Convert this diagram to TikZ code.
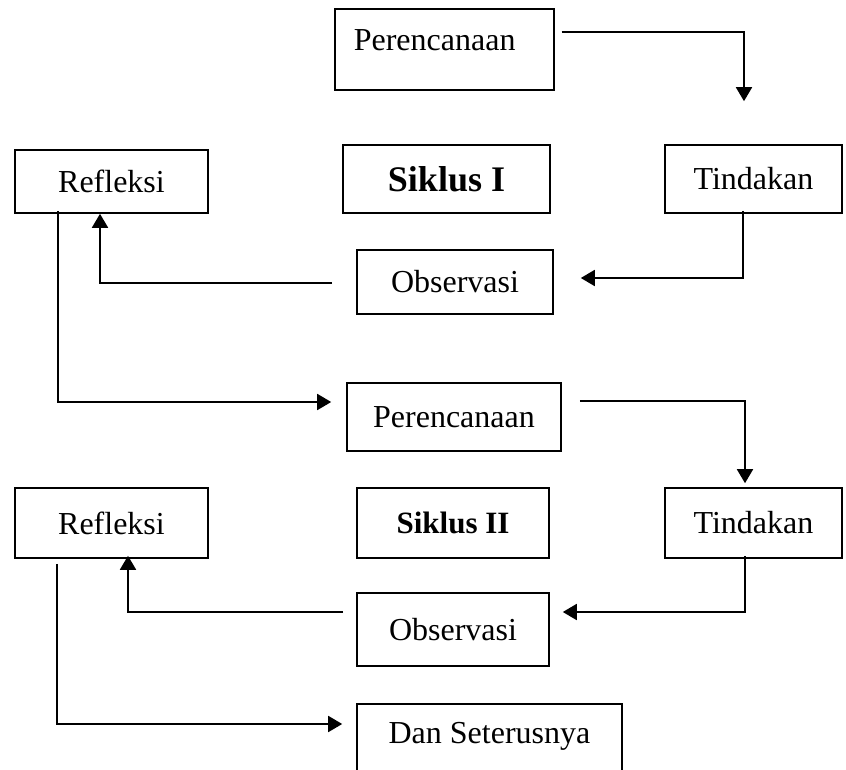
\documentclass[tikz,border=0pt]{standalone}
\usepackage{fontspec}
\setmainfont{Liberation Serif}
\usepackage{tikz}
\usetikzlibrary{arrows.meta, calc}

\begin{document}
\begin{tikzpicture}[
          x=1pt, y=-1pt,
          box/.style={rectangle, draw, line width=1.6pt, inner sep=0pt,
            font=\fontsize{32}{38}\selectfont},
          link/.style={line width=1.8pt, -{Triangle[length=14pt, width=16pt]}}
        ]
          \useasboundingbox (0,0) rectangle (846,770);
          \clip (0,0) rectangle (846,770);
          % siklus I
          \node[box, anchor=north west, text width=181pt, align=left, inner xsep=19pt,
            text height=42pt, text depth=39pt] (p1) at (334,8) {Perencanaan};
          \node[box, minimum width=193pt, minimum height=63pt] (r1) at (111.5,181.5) {Refleksi};
          \node[box, minimum width=207pt, minimum height=68pt,
            font=\fontsize{36}{42}\selectfont\bfseries] (s1) at (446.5,179) {Siklus I};
          \node[box, minimum width=177pt, minimum height=68pt] (t1) at (753.5,179) {Tindakan};
          \node[box, minimum width=196pt, minimum height=64pt] (o1) at (455,282) {Observasi};
          % siklus II
          \node[box, minimum width=214pt, minimum height=68pt] (p2) at (454,417) {Perencanaan};
          \node[box, minimum width=193pt, minimum height=70pt] (r2) at (111.5,523) {Refleksi};
          \node[box, minimum width=192pt, minimum height=70pt,
            font=\fontsize{31}{37}\selectfont\bfseries] (s2) at (453,523) {Siklus II};
          \node[box, minimum width=177pt, minimum height=70pt] (t2) at (753.5,523) {Tindakan};
          \node[box, minimum width=192pt, minimum height=73pt] (o2) at (453,629.5) {Observasi};
          \node[box, anchor=north, minimum width=265pt, text height=40pt, text depth=50pt]
            (d) at (489.5,703) {Dan Seterusnya};
          % panah
          \draw[link] ($(p1.north east)+(7,24)$) -| ($(t1.north)+(-9.5,-43)$);
          \draw[link] ($(t1.south)+(-10.5,-3)$) |- ($(o1.east)+(27,-4)$);
          \draw[link] ($(o1.west)+(-24,1)$) -| ($(r1.south)+(-11.5,0)$);
          \draw[link] ($(r1.south)+(-53.5,-3)$) |- ($(p2.west)+(-15,-15)$);
          \draw[link] ($(p2.east)+(18,-16)$) -| ($(t2.north)+(-8.5,-4)$);
          \draw[link] ($(t2.south)+(-8.5,-3)$) |- ($(o2.east)+(13,-17.5)$);
          \draw[link] ($(o2.west)+(-13,-17.5)$) -| ($(r2.south)+(16.5,-3)$);
          \draw[link] ($(r2.south)+(-54.5,5)$) |- ($(d.north west)+(-14,21)$);
        \end{tikzpicture}
\end{document}
